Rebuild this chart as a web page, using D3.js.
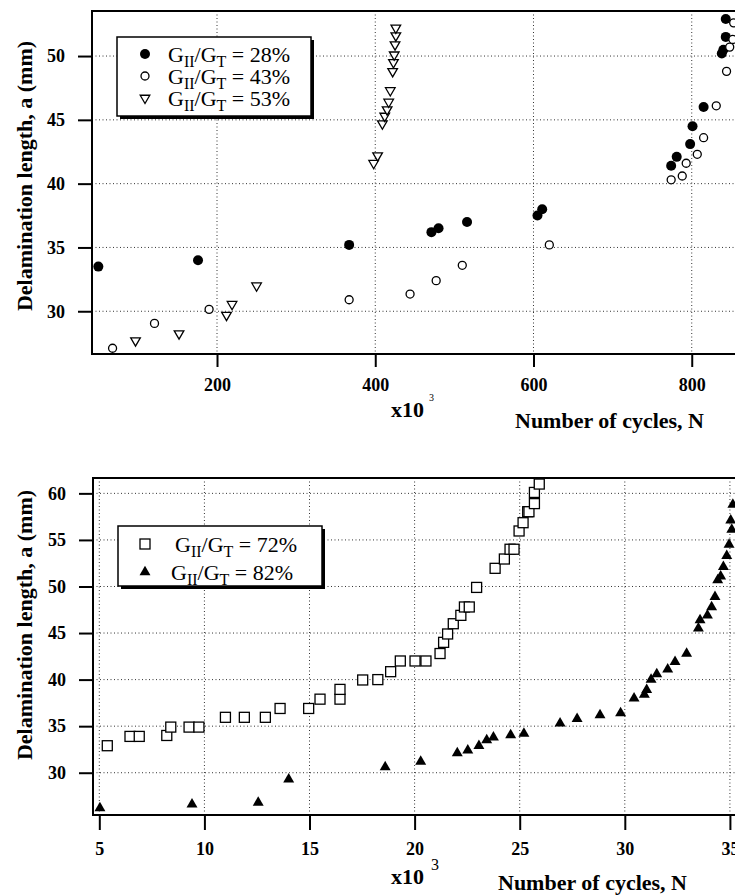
<!DOCTYPE html>
<html lang="en">
<head>
<meta charset="UTF-8">
<title>Delamination growth</title>
<script src="https://d3js.org/d3.v7.min.js"></script>
<style>
  body { margin: 0; background: #fff; }
  svg { display: block; }
  .tick text { font-family: "Liberation Serif", "Times New Roman", serif; font-weight: bold; font-size: 18px; fill: #000; }
  .grid line { stroke: #333; stroke-width: 1; stroke-dasharray: 1,2.5; }
  .frame { stroke: #000; stroke-width: 2; fill: none; }
  .title { font-family: "Liberation Serif", "Times New Roman", serif; font-weight: bold; font-size: 22px; fill: #000; }
  .leg { font-family: "Liberation Serif", "Times New Roman", serif; font-size: 22px; fill: #000; }
</style>
</head>
<body>
<script>
// ---- data, top chart (cycles in thousands, delamination length in mm)
var cycles28 = [50,176,367,471,480,516,605,611,774,781,798,801,815,838,840,843,843];
var length28 = [33.5,34.0,35.2,36.2,36.5,37.0,37.5,38.0,41.4,42.1,43.1,44.5,46.0,50.2,50.5,51.5,52.9];
var cycles43 = [68,121,190,367,444,477,510,620,774,788,793,807,815,831,844,848,852,853];
var length43 = [27.1,29.05,30.15,30.9,31.35,32.4,33.6,35.2,40.3,40.6,41.6,42.3,43.6,46.1,48.8,50.7,51.3,52.6];
var cycles53 = [97,152,212,219,250,398,403,409,412,415,417,419,422,423,424,425,426,426];
var length53 = [27.7,28.25,29.7,30.55,32.0,41.6,42.2,44.7,45.3,45.8,46.4,47.3,48.8,49.5,50.1,50.9,51.6,52.2];

// ---- data, bottom chart
var cycles72 = [5.38,6.46,6.90,8.21,8.40,9.27,9.74,11.0,11.9,12.9,13.6,14.96,15.5,16.45,16.45,17.53,18.25,18.86,19.32,20.02,20.54,21.21,21.38,21.57,21.84,22.2,22.37,22.6,22.95,23.83,24.27,24.54,24.73,24.97,25.16,25.38,25.44,25.7,25.7,25.93];
var length72 = [32.9,33.9,33.9,34.0,34.9,34.9,34.9,35.95,35.95,35.95,36.9,36.9,37.9,37.9,38.95,39.96,40.0,40.85,42.0,42.0,42.0,42.8,44.0,44.9,46.0,46.9,47.8,47.8,49.9,51.95,52.95,54.0,54.0,55.96,56.85,58.03,58.03,58.9,60.1,61.0];
var cycles82 = [5.03,9.41,12.56,14.01,18.6,20.29,22.03,22.53,23.06,23.43,23.75,24.57,25.2,26.92,27.73,28.82,29.8,30.44,30.93,31.04,31.25,31.52,32.04,32.39,32.94,33.5,33.58,33.93,34.13,34.29,34.42,34.56,34.69,34.85,34.96,35.09,35.04,35.14];
var length82 = [26.2,26.6,26.8,29.3,30.6,31.2,32.1,32.4,32.9,33.5,33.8,34.05,34.2,35.3,35.8,36.2,36.4,38.0,38.4,38.9,40.0,40.6,41.1,41.9,42.8,45.5,46.4,46.9,47.8,48.9,50.7,51.1,52.1,53.3,54.5,56.1,57.1,58.8];

// ---- ticks
var topXTicks = [200,400,600,800];
var topYTicks = [30,35,40,45,50];
var botXTicks = [5,10,15,20,25,30,35];
var botYTicks = [30,35,40,45,50,55,60];

var svg = d3.select("body").append("svg").attr("width", 735).attr("height", 896);

function zip(a, b) { return a.map(function(v, i){ return [v, b[i]]; }); }

function panel(o) {
  var x = d3.scaleLinear().domain(o.xDom).range([o.left, o.right]);
  var y = d3.scaleLinear().domain(o.yDom).range([o.bottom, o.top]);
  var g = svg.append("g");

  // grid
  g.append("g").attr("class", "grid")
    .selectAll("line").data(o.xTicks).enter().append("line")
    .attr("x1", function(d){ return x(d); }).attr("x2", function(d){ return x(d); })
    .attr("y1", o.top).attr("y2", o.bottom);
  g.append("g").attr("class", "grid")
    .selectAll("line").data(o.yTicks).enter().append("line")
    .attr("y1", function(d){ return y(d); }).attr("y2", function(d){ return y(d); })
    .attr("x1", o.left).attr("x2", o.right);

  // axes
  var ax = g.append("g").attr("transform", "translate(0," + o.bottom + ")")
    .call(d3.axisBottom(x).tickValues(o.xTicks).tickSize(o.xTickLen).tickPadding(o.xPad).tickFormat(d3.format("d")));
  var ay = g.append("g").attr("transform", "translate(" + o.left + ",0)")
    .call(d3.axisLeft(y).tickValues(o.yTicks).tickSize(14).tickPadding(13).tickFormat(d3.format("d")));
  [ax, ay].forEach(function(a){
    a.select(".domain").remove();
    a.selectAll(".tick line").attr("stroke", "#000").attr("stroke-width", 2);
  });

  // frame (left, top, bottom; right side runs off the page)
  g.append("path").attr("class", "frame")
    .attr("d", "M" + 740 + "," + o.top + "H" + o.left + "V" + o.bottom + "H" + 740);

  return {g: g, x: x, y: y};
}

function legendText(sel, pct) {
  sel.append("tspan").text("G");
  sel.append("tspan").attr("font-size", "16px").attr("dy", 5).text("II");
  sel.append("tspan").attr("dy", -5).text("/G");
  sel.append("tspan").attr("font-size", "16px").attr("dy", 5).text("T");
  sel.append("tspan").attr("dy", -5).text(" = " + pct);
}

// ================= top chart
var p1 = panel({
  left: 92, right: 740, top: 11, bottom: 354,
  xDom: [42, 861], yDom: [26.65, 53.53],
  xTicks: topXTicks, yTicks: topYTicks, xTickLen: 13, xPad: 11
});

p1.g.selectAll(".c28").data(zip(cycles28, length28)).enter().append("circle")
  .attr("cx", function(d){ return p1.x(d[0]); }).attr("cy", function(d){ return p1.y(d[1]); })
  .attr("r", 5).attr("fill", "#000");
p1.g.selectAll(".c43").data(zip(cycles43, length43)).enter().append("circle")
  .attr("cx", function(d){ return p1.x(d[0]); }).attr("cy", function(d){ return p1.y(d[1]); })
  .attr("r", 4).attr("fill", "#fff").attr("stroke", "#000").attr("stroke-width", 1.3);
var triDown = d3.symbol().type(d3.symbolTriangle).size(40);
p1.g.selectAll(".t53").data(zip(cycles53, length53)).enter().append("path")
  .attr("d", triDown)
  .attr("transform", function(d){ return "translate(" + p1.x(d[0]) + "," + p1.y(d[1]) + ") rotate(180)"; })
  .attr("fill", "#fff").attr("stroke", "#000").attr("stroke-width", 1.3);

// legend top
var l1 = svg.append("g");
l1.append("rect").attr("x", 120).attr("y", 40).attr("width", 194).attr("height", 79).attr("fill", "#000");
l1.append("rect").attr("x", 117).attr("y", 37).attr("width", 194).attr("height", 79)
  .attr("fill", "#fff").attr("stroke", "#000").attr("stroke-width", 1.5);
l1.append("circle").attr("cx", 145).attr("cy", 54).attr("r", 5).attr("fill", "#000");
l1.append("circle").attr("cx", 145).attr("cy", 76).attr("r", 4).attr("fill", "#fff").attr("stroke", "#000").attr("stroke-width", 1.3);
l1.append("path").attr("d", triDown).attr("transform", "translate(145,98) rotate(180)")
  .attr("fill", "#fff").attr("stroke", "#000").attr("stroke-width", 1.3);
legendText(l1.append("text").attr("class", "leg").attr("x", 168).attr("y", 62), "28%");
legendText(l1.append("text").attr("class", "leg").attr("x", 168).attr("y", 84), "43%");
legendText(l1.append("text").attr("class", "leg").attr("x", 168).attr("y", 106), "53%");

svg.append("text").attr("class", "title").attr("transform", "translate(32,176) rotate(-90)")
  .attr("text-anchor", "middle").text("Delamination length, a (mm)");
svg.append("text").attr("class", "title").attr("x", 515).attr("y", 428).text("Number of cycles, N");
svg.append("text").attr("class", "title").attr("font-size", "18px").attr("x", 391).attr("y", 417).text("x10");
svg.append("text").attr("font-family", "Liberation Serif, serif").attr("font-size", "10px").attr("x", 429).attr("y", 401).text("3");

// ================= bottom chart
var p2 = panel({
  left: 93, right: 740, top: 478, bottom: 815,
  xDom: [4.70, 35.48], yDom: [25.46, 61.65],
  xTicks: botXTicks, yTicks: botYTicks, xTickLen: 15, xPad: 12
});

p2.g.selectAll(".s72").data(zip(cycles72, length72)).enter().append("rect")
  .attr("x", function(d){ return p2.x(d[0]) - 5; }).attr("y", function(d){ return p2.y(d[1]) - 5; })
  .attr("width", 10).attr("height", 10)
  .attr("fill", "#fff").attr("stroke", "#000").attr("stroke-width", 1.3);
var triUp = d3.symbol().type(d3.symbolTriangle).size(52);
p2.g.selectAll(".t82").data(zip(cycles82, length82)).enter().append("path")
  .attr("d", triUp)
  .attr("transform", function(d){ return "translate(" + p2.x(d[0]) + "," + p2.y(d[1]) + ")"; })
  .attr("fill", "#000");

// legend bottom
var l2 = svg.append("g");
l2.append("rect").attr("x", 121).attr("y", 529).attr("width", 204).attr("height", 60).attr("fill", "#000");
l2.append("rect").attr("x", 118).attr("y", 526).attr("width", 204).attr("height", 60)
  .attr("fill", "#fff").attr("stroke", "#000").attr("stroke-width", 1.5);
l2.append("rect").attr("x", 140).attr("y", 539).attr("width", 10).attr("height", 10)
  .attr("fill", "#fff").attr("stroke", "#000").attr("stroke-width", 1.3);
l2.append("path").attr("d", triUp).attr("transform", "translate(145,572)").attr("fill", "#000");
legendText(l2.append("text").attr("class", "leg").attr("x", 175).attr("y", 552), "72%");
legendText(l2.append("text").attr("class", "leg").attr("x", 171).attr("y", 580), "82%");

svg.append("text").attr("class", "title").attr("transform", "translate(32,625) rotate(-90)")
  .attr("text-anchor", "middle").text("Delamination length, a (mm)");
svg.append("text").attr("class", "title").attr("x", 498).attr("y", 890).text("Number of cycles, N");
svg.append("text").attr("class", "title").attr("font-size", "18px").attr("x", 391).attr("y", 884).text("x10");
svg.append("text").attr("font-family", "Liberation Serif, serif").attr("font-size", "16px").attr("x", 431).attr("y", 870).text("3");
</script>
</body>
</html>
